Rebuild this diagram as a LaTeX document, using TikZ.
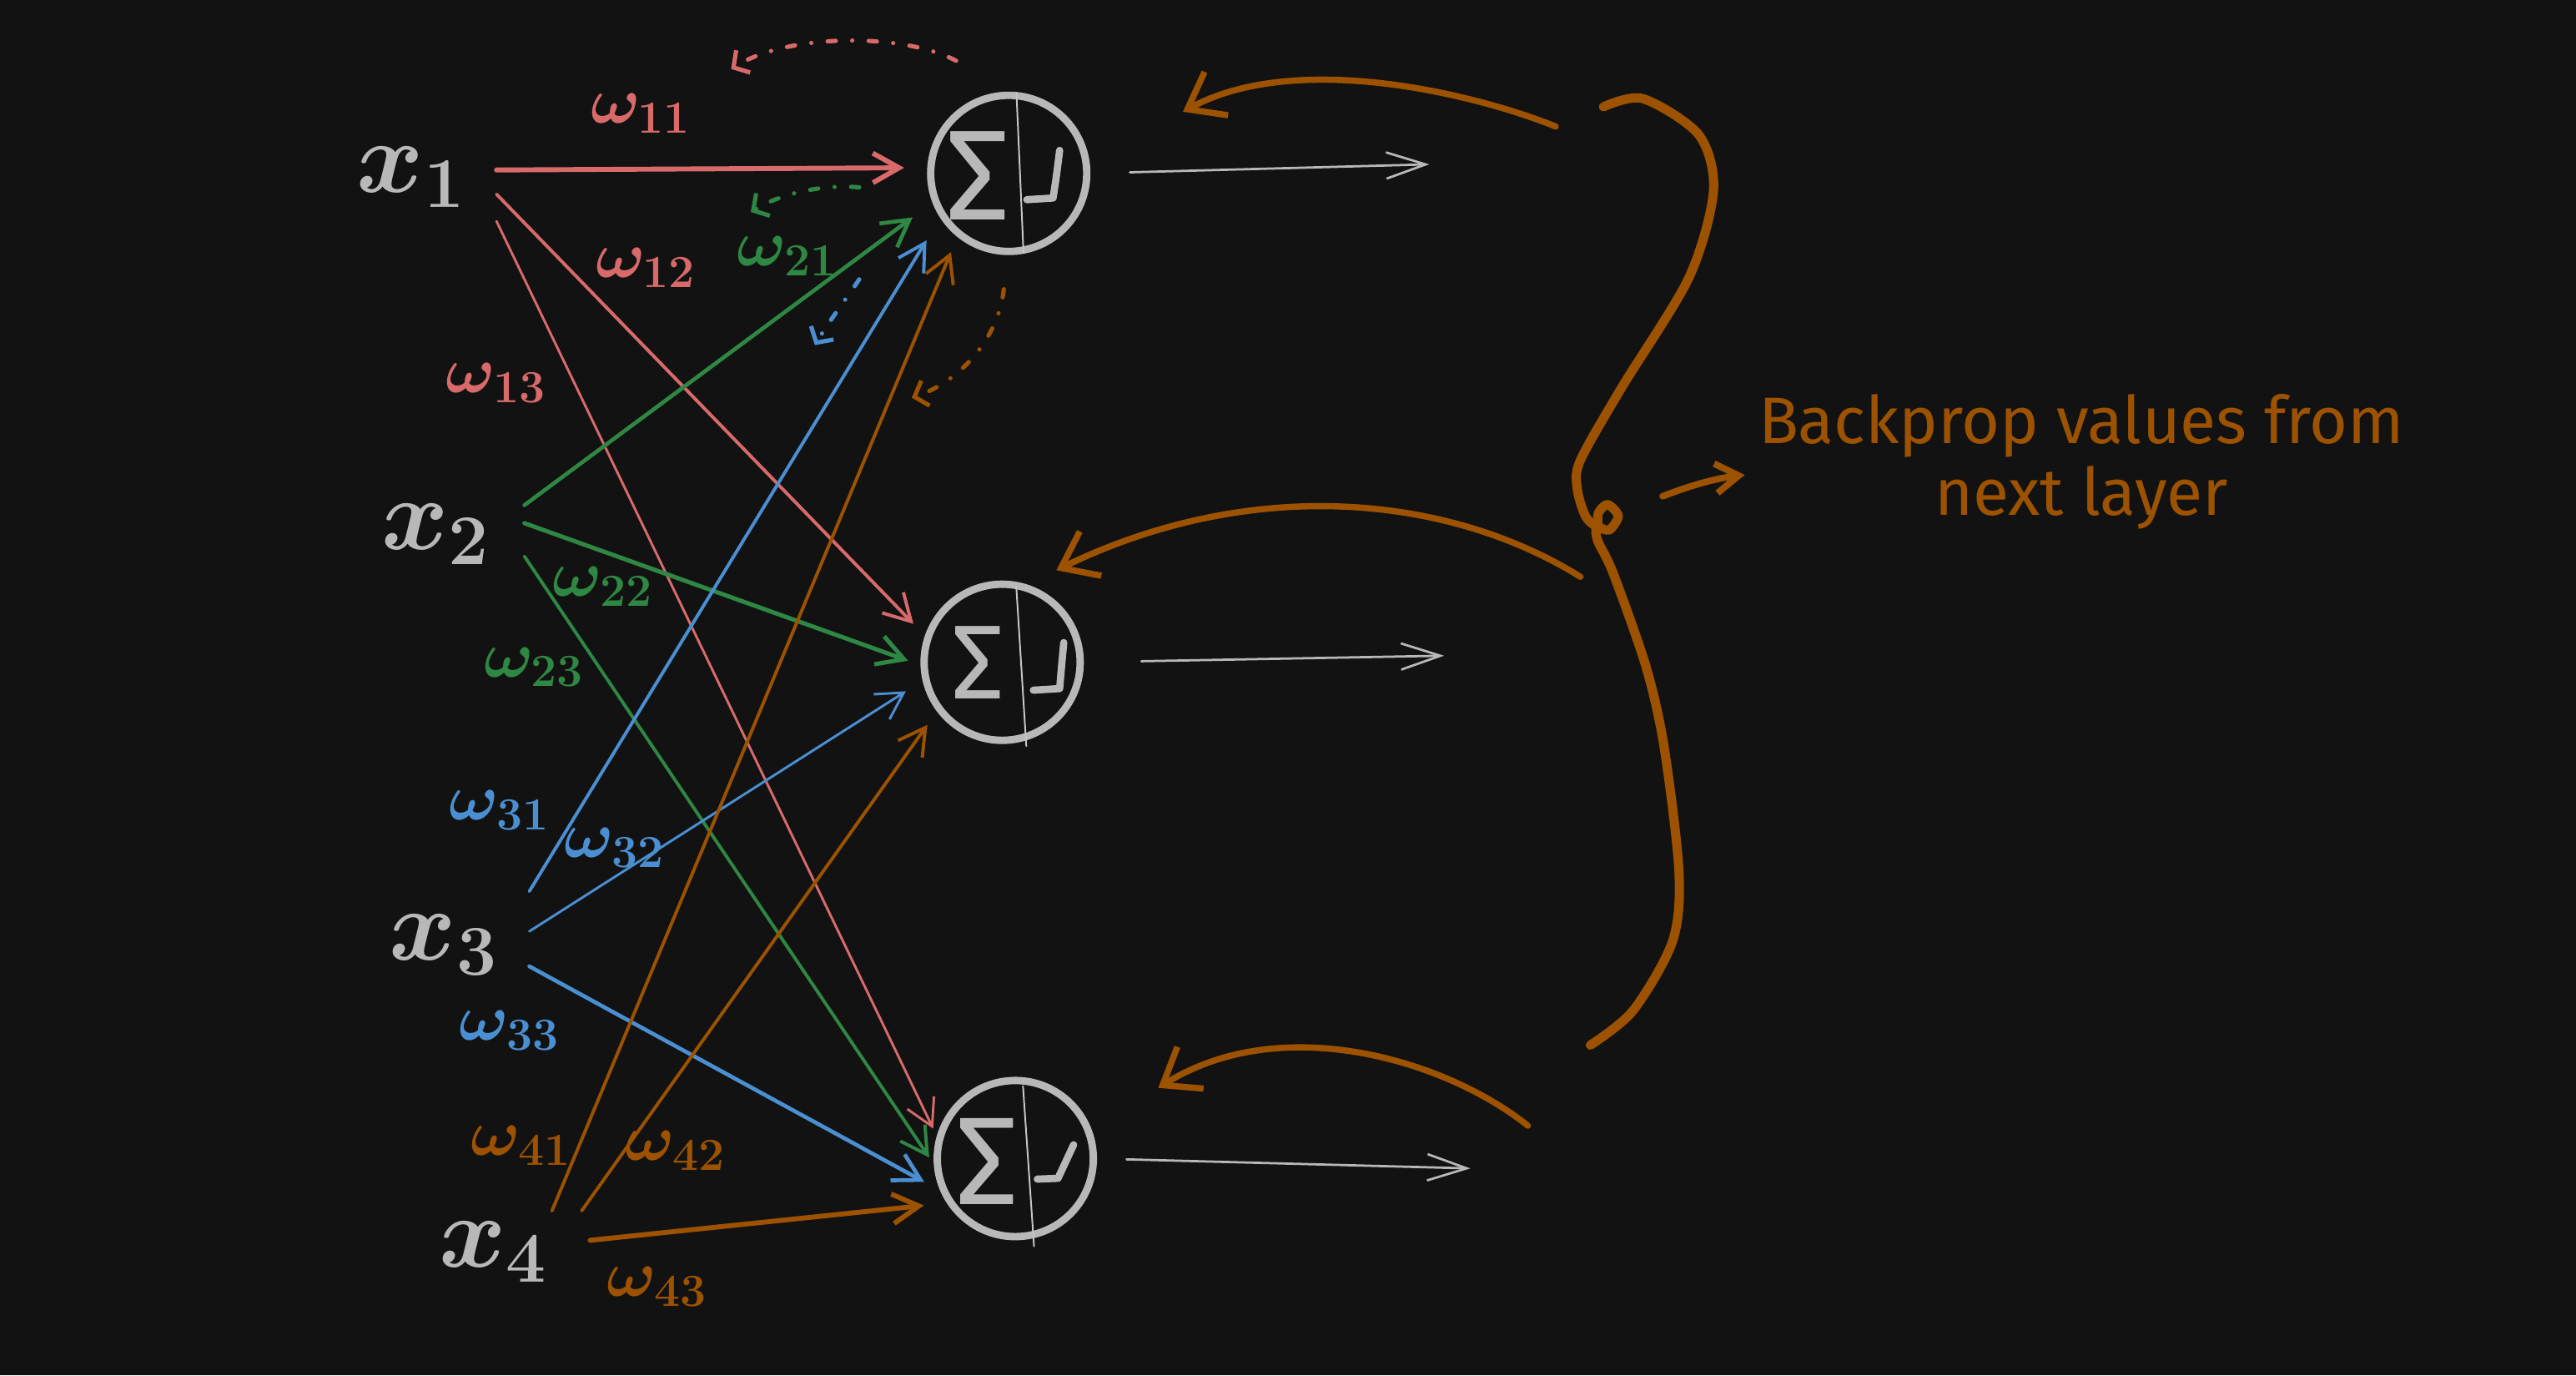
\RequirePackage{fix-cm}
\documentclass[tikz,border=0pt]{standalone}
\usepackage{fontspec}
\newfontfamily\handfont{Fira Sans}
\usetikzlibrary{arrows.meta}

\definecolor{bgcol}{HTML}{121212}
\definecolor{inkgrey}{HTML}{B8B8B8}
\definecolor{wred}{HTML}{D86A6A}
\definecolor{wgreen}{HTML}{2E8742}
\definecolor{wblue}{HTML}{4A8FD2}
\definecolor{worange}{HTML}{9C5200}

\tikzset{
  neuron/.style={circle, draw=inkgrey, line width=4.5pt, minimum size=95pt, inner sep=0pt},
  xin/.style={inner sep=0pt, text=inkgrey, font=\boldmath\fontsize{62}{62}\selectfont},
  wlab/.style={inner sep=0pt, font=\boldmath\fontsize{40}{40}\selectfont},
  sig/.style={inner sep=0pt, text=inkgrey},
  divider/.style={draw=inkgrey!80!white, line width=1pt},
  act/.style={draw=inkgrey, line width=4.4pt},
  wire/.style={-{Straight Barb[length=16pt,width=18pt]}},
  outarr/.style={inkgrey, line width=1.4pt, -{Straight Barb[length=24pt,width=16pt]}},
  backarr/.style={worange, line width=3.8pt, -{Straight Barb[length=20pt,width=30pt]}},
  gradarr/.style={line width=2.6pt, dash pattern=on 5pt off 10pt on 0pt off 10pt, -{Straight Barb[length=7pt,width=16pt]}},
  note/.style={text=worange, align=center, font=\handfont\fontsize{40}{44}\selectfont}
}

\begin{document}
\begin{tikzpicture}[x=1pt, y=-1pt, line cap=round, line join=round]
\useasboundingbox (0,0) rectangle (1568,837);
\fill[bgcol] (0,0) rectangle (1568,837);

\node[xin, minimum width=104pt, minimum height=70pt] (x1) at (250,108) {$x_1$};
\node[xin, minimum width=108pt, minimum height=60pt] (x2) at (265,325) {$x_2$};
\node[xin, minimum width=104pt, minimum height=70pt] (x3) at (270,575) {$x_3$};
\node[xin, minimum width=118pt, minimum height=50pt] (x4) at (300,762) {$x_4$};

\node[neuron] (n1) at (614,105.5) {};
\node[neuron] (n2) at (610,403) {};
\node[neuron] (n3) at (618,705) {};

\node[sig, font=\handfont\fontsize{78}{78}\selectfont] (s1) at ([shift={(-19,1.5)}]n1.center) {Σ};
\node[sig, font=\handfont\fontsize{64}{64}\selectfont] (s2) at ([shift={(-15,0)}]n2.center) {Σ};
\node[sig, font=\handfont\fontsize{76}{76}\selectfont] (s3) at ([shift={(-17,2)}]n3.center) {Σ};

\foreach \n/\ax/\ay/\bx/\by in {1/4.7/-49/9/48.5, 2/8.6/-46/14.7/51, 3/4.7/-44/11.4/53.4}
  \draw[divider] ([shift={(\ax,\ay)}]n\n.center) -- ([shift={(\bx,\by)}]n\n.center);

\begin{scope}[shift={(n1.center)}]
\draw[act] (31,-14) .. controls (29,2) .. (27,15) -- (11,16);
\end{scope}
\begin{scope}[shift={(n2.center)}]
\draw[act] (37.5,-12) .. controls (36,4) .. (35,16) -- (19,17);
\end{scope}
\begin{scope}[shift={(n3.center)}]
\draw[act] (35.5,-8.4) -- (26,12) -- (13.4,12.5);
\end{scope}

\foreach \src/\sa/\dst/\da/\col/\lw/\sh in {
  x1/5/n1/176/wred/3/14, x1/-11/n2/161/wred/2/10, x1/-27/n3/164/wred/1.5/5,
  x2/18/n1/201/wgreen/2.4/15, x2/7/n2/182/wgreen/2.6/8, x2/-14/n3/184/wgreen/2/5,
  x3/32/n1/213/wblue/2/16, x3/9/n2/193/wblue/1.5/12, x3/-14/n3/203/wblue/2.4/11,
  x4/35/n1/231/worange/2/10, x4/25/n2/217/worange/2/10, x4/7/n3/213/worange/3/14}
  \draw[wire, \col, line width=\lw pt, shorten >=\sh pt] (\src.\sa) -- (\dst.\da);

\node[wlab, wred] (w11) at (390,69) {$\omega_{11}$};
\node[wlab, wred] (w12) at (393,163) {$\omega_{12}$};
\node[wlab, wred] (w13) at (302,233) {$\omega_{13}$};
\node[wlab, wgreen] (w21) at (479,156) {$\omega_{21}$};
\node[wlab, wgreen] (w22) at (367,357) {$\omega_{22}$};
\node[wlab, wgreen] (w23) at (325,406) {$\omega_{23}$};
\node[wlab, wblue] (w31) at (304,493) {$\omega_{31}$};
\node[wlab, wblue] (w32) at (374,516) {$\omega_{32}$};
\node[wlab, wblue] (w33) at (310,627) {$\omega_{33}$};
\node[wlab, worange] (w41) at (317,697) {$\omega_{41}$};
\node[wlab, worange] (w42) at (411,700) {$\omega_{42}$};
\node[wlab, worange] (w43) at (400,783) {$\omega_{43}$};

\coordinate (o1) at (870,100);
\coordinate (o2) at (879,399);
\coordinate (o3) at (895,711);
\foreach \n/\sh in {1/24,2/35,3/18}
  \draw[outarr, shorten <=\sh pt] (n\n.east) -- (o\n);

\draw[gradarr, wred] (582,37) .. controls (550,20) and (480,20) .. (445,42);
\draw[gradarr, wgreen] (523,114) .. controls (500,112) and (475,118) .. (457,129);
\draw[gradarr, wblue] (523,170) .. controls (515,182) and (505,195) .. (496,210);
\draw[gradarr, worange] (611,176) .. controls (608,205) and (585,232) .. (555,242);

\coordinate (bk1) at (947,77);
\coordinate (bk2) at (962,351);
\coordinate (bk3) at (930,685);
\coordinate (tip1) at (720,68);
\coordinate (tip2) at (643,347);
\coordinate (tip3) at (705,662);
\draw[backarr] (bk1) .. controls (900,58) and (790,30) .. (tip1);
\draw[backarr] (bk2) .. controls (880,300) and (760,290) .. (tip2);
\draw[backarr] (bk3) .. controls (880,645) and (780,615) .. (tip3);

\draw[worange, line width=5.6pt] plot[smooth, tension=0.5] coordinates {
  (976,65) (1000,60) (1034,82) (1043,116) (1028,169) (987,236) (962,280)
  (960,297) (965,314) (972,320) (973,312) (978.5,307) (985,314) (979.5,322.5)
  (972,321) (972.5,329) (982,349) (1002,406) (1013,455) (1022,531) (1018,573)
  (994,615) (968,636)};

\node[note] (bp) at (1267,281) {Backprop values from\\next layer};
\coordinate (bpfrom) at (1012,302);
\coordinate (bpto) at (1062,289);
\draw[worange, line width=4pt, -{Straight Barb[length=14pt,width=18pt]}] (bpfrom) .. controls (1030,295) and (1045,291) .. (bpto);
\end{tikzpicture}
\end{document}
